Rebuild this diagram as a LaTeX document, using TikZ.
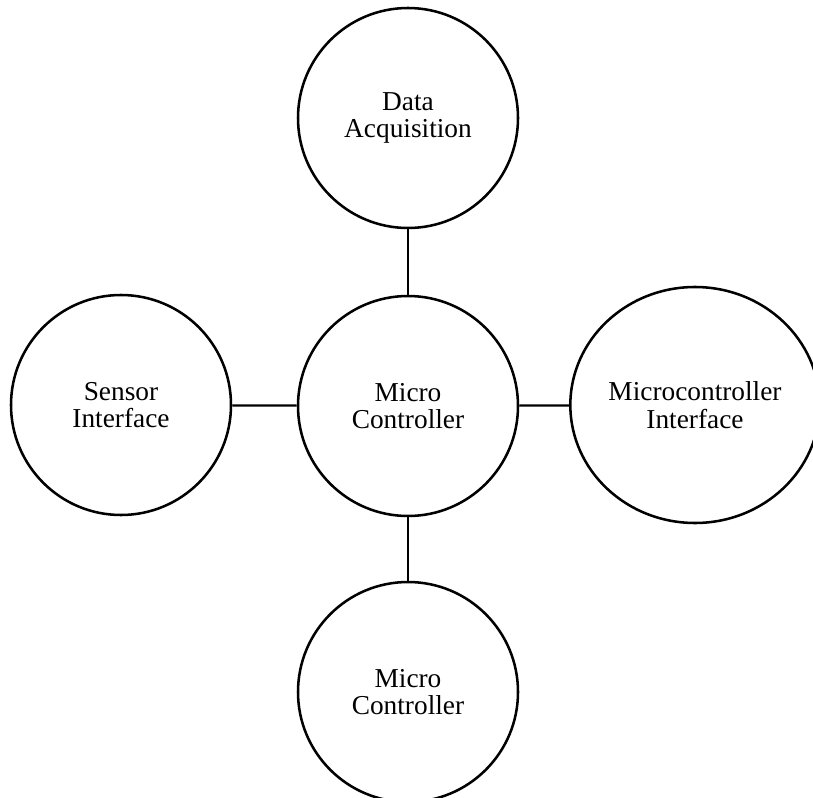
\documentclass[tikz,border=0pt]{standalone}
\usepackage{fontspec}
\setmainfont{Liberation Serif}
\usetikzlibrary{shapes.geometric}

\begin{document}
\begin{tikzpicture}[x=0.75pt,y=0.75pt,yscale=-1,xscale=1,
    blob/.style={draw, circle, line width=1.9pt, inner sep=0pt, minimum size=165pt,
      align=center, font=\fontsize{20.5}{20.5}\selectfont},
    wire/.style={line width=1.7pt}]
%set diagram left start at 0, and has height of 798
\useasboundingbox (0,0) rectangle (813,798);

% Circles
    \node [blob] (mcu) at (408,406) {Micro\\Controller};
    \node [blob] (daq) at (408,118) {Data\\Acquisition};
    \node [blob] (sens) at (121,405) {Sensor\\Interface};
    \node [blob, ellipse, minimum width=187pt, minimum height=177pt] (mcif) at (695,405) {Microcontroller\\Interface};
    \node [blob] (mcu2) at (408,692) {Micro\\Controller};

% Straight Lines
    \draw [wire] (daq) -- (mcu);
    \draw [wire] (sens) -- (mcu);
    \draw [wire] (mcu) -- (mcif);
    \draw [wire] (mcu) -- (mcu2);
\end{tikzpicture}
\end{document}
